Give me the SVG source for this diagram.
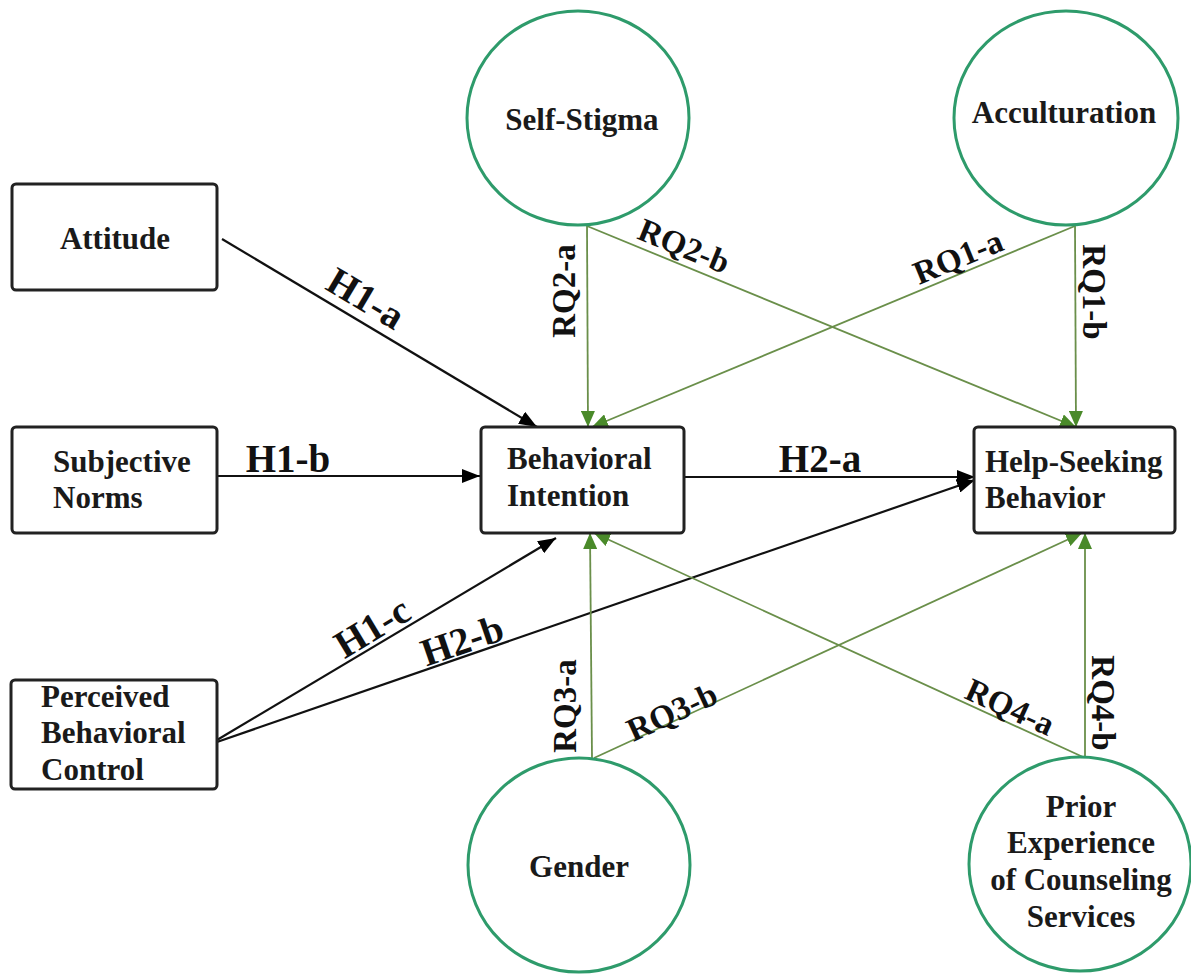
<svg xmlns="http://www.w3.org/2000/svg" width="1191" height="974" viewBox="0 0 1191 974" font-family="Liberation Serif, Times New Roman, DejaVu Serif, serif" font-weight="bold">
<defs>
<style>
.box{fill:#fff;stroke:#222;stroke-width:3}
.oval{fill:#fff;stroke:#2e9b6b;stroke-width:3}
.nt{font-size:31px;fill:#1a1a1a}
.blk{stroke:#111;stroke-width:2.2;fill:none}
.grn{stroke:#6a8f4a;stroke-width:1.8;fill:none}
.hl{font-size:39px;fill:#111;text-anchor:middle}
.rq{font-size:33px;fill:#111;text-anchor:middle;dominant-baseline:central}
</style>
<marker id="ab" markerUnits="userSpaceOnUse" viewBox="0 0 18 14" refX="18" refY="7" markerWidth="18" markerHeight="14" orient="auto">
<path d="M0,0 L18,7 L0,14 z" fill="#000"/>
</marker>
<marker id="ag" markerUnits="userSpaceOnUse" viewBox="0 0 16 14" refX="16" refY="7" markerWidth="16" markerHeight="14" orient="auto">
<path d="M0,0 L16,7 L0,14 z" fill="#4a8a2a"/>
</marker>
</defs>
<rect width="1191" height="974" fill="#fff"/>

<g id="connectors">
<line class="blk" x1="222" y1="239" x2="537" y2="427" marker-end="url(#ab)"/>
<line class="blk" x1="218" y1="476" x2="480" y2="476" marker-end="url(#ab)"/>
<line class="blk" x1="217" y1="740" x2="556" y2="538" marker-end="url(#ab)"/>
<line class="blk" x1="217" y1="742" x2="975" y2="480" marker-end="url(#ab)"/>
<line class="blk" x1="684" y1="477" x2="975" y2="477" marker-end="url(#ab)"/>

<line class="grn" x1="587" y1="225" x2="588" y2="427" marker-end="url(#ag)"/>
<line class="grn" x1="587" y1="226" x2="1076" y2="427" marker-end="url(#ag)"/>
<line class="grn" x1="1075" y1="226" x2="592" y2="427" marker-end="url(#ag)"/>
<line class="grn" x1="1075" y1="225" x2="1076" y2="427" marker-end="url(#ag)"/>
<line class="grn" x1="592" y1="758" x2="590" y2="533" marker-end="url(#ag)"/>
<line class="grn" x1="594" y1="758" x2="1082" y2="533" marker-end="url(#ag)"/>
<line class="grn" x1="1083" y1="757" x2="594" y2="533" marker-end="url(#ag)"/>
<line class="grn" x1="1085" y1="757" x2="1085" y2="533" marker-end="url(#ag)"/>

<text class="hl" transform="translate(366,298) rotate(30.8)" dominant-baseline="central">H1-a</text>
<text class="hl" x="288" y="472">H1-b</text>
<text class="hl" x="820" y="472">H2-a</text>
<text class="hl" transform="translate(372,627) rotate(-31)" dominant-baseline="central">H1-c</text>
<text class="hl" transform="translate(462,640) rotate(-19)" dominant-baseline="central">H2-b</text>

<text class="rq" transform="translate(564,291) rotate(-90)">RQ2-a</text>
<text class="rq" transform="translate(684,246) rotate(22.2)">RQ2-b</text>
<text class="rq" transform="translate(958,257) rotate(-22.4)">RQ1-a</text>
<text class="rq" transform="translate(1094,292) rotate(90)">RQ1-b</text>
<text class="rq" transform="translate(565,706) rotate(-90)">RQ3-a</text>
<text class="rq" transform="translate(672,712) rotate(-24.7)">RQ3-b</text>
<text class="rq" transform="translate(1010,707) rotate(24.4)">RQ4-a</text>
<text class="rq" transform="translate(1103,703) rotate(90)">RQ4-b</text>
</g>

<g id="attitude">
<rect class="box" x="12" y="184" width="205" height="106" rx="4"/>
<text class="nt" x="115" y="249" text-anchor="middle">Attitude</text>
</g>
<g id="subjective-norms">
<rect class="box" x="12" y="427" width="205" height="106" rx="4"/>
<text class="nt" x="53" y="472">Subjective</text>
<text class="nt" x="53" y="508">Norms</text>
</g>
<g id="perceived-behavioral-control">
<rect class="box" x="11" y="680" width="206" height="109" rx="4"/>
<text class="nt" x="41" y="707">Perceived</text>
<text class="nt" x="41" y="743">Behavioral</text>
<text class="nt" x="41" y="780">Control</text>
</g>
<g id="behavioral-intention">
<rect class="box" x="481" y="427" width="203" height="106" rx="4"/>
<text class="nt" x="507" y="469">Behavioral</text>
<text class="nt" x="507" y="506">Intention</text>
</g>
<g id="help-seeking-behavior">
<rect class="box" x="974" y="427" width="201" height="106" rx="4"/>
<text class="nt" x="985" y="472">Help-Seeking</text>
<text class="nt" x="985" y="508">Behavior</text>
</g>
<g id="self-stigma">
<ellipse class="oval" cx="578" cy="118" rx="111" ry="107"/>
<text class="nt" x="582" y="130" text-anchor="middle">Self-Stigma</text>
</g>
<g id="acculturation">
<ellipse class="oval" cx="1066" cy="118" rx="112" ry="107"/>
<text class="nt" x="1064" y="123" text-anchor="middle">Acculturation</text>
</g>
<g id="gender">
<ellipse class="oval" cx="579" cy="865" rx="111" ry="107"/>
<text class="nt" x="579" y="877" text-anchor="middle">Gender</text>
</g>
<g id="prior-experience">
<ellipse class="oval" cx="1080" cy="864" rx="111" ry="107"/>
<text class="nt" x="1081" y="817" text-anchor="middle">Prior</text>
<text class="nt" x="1081" y="853" text-anchor="middle">Experience</text>
<text class="nt" x="1081" y="890" text-anchor="middle">of Counseling</text>
<text class="nt" x="1081" y="927" text-anchor="middle">Services</text>
</g>
</svg>
